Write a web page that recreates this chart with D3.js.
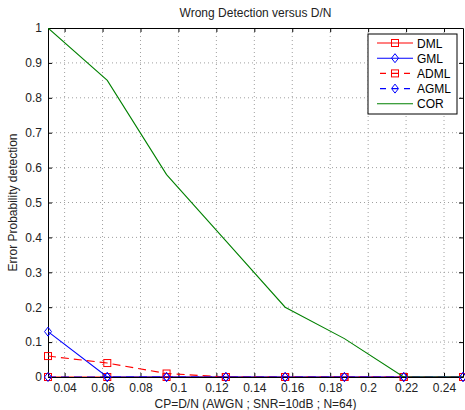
<!DOCTYPE html>
<html>
<head>
<meta charset="utf-8">
<script src="https://cdn.jsdelivr.net/npm/d3@7"></script>
<style>
  body { margin: 0; background: #fff; }
  svg { display: block; font-family: "Liberation Sans", Arial, sans-serif; }
</style>
</head>
<body>
<div id="chart"></div>
<script>
// D/N values (multiples of 1/32)
const dn = [0.03125, 0.0625, 0.09375, 0.125, 0.15625, 0.1875, 0.21875, 0.25];
const dml  = [0, 0, 0, 0, 0, 0, 0, 0];
const gml  = [0.13, 0, 0, 0, 0, 0, 0, 0];
const adml = [0.06, 0.04, 0.01, 0, 0, 0, 0, 0];
const agml = [0, 0, 0, 0, 0, 0, 0, 0];
const cor  = [1.0, 0.85, 0.58, 0.39, 0.2, 0.11, 0, 0];

const xTicks = [0.04, 0.06, 0.08, 0.1, 0.12, 0.14, 0.16, 0.18, 0.2, 0.22, 0.24];
const yTicks = [0, 0.1, 0.2, 0.3, 0.4, 0.5, 0.6, 0.7, 0.8, 0.9, 1];

const series = [
  { name: "DML",  values: dml,  color: "#ff0000", dash: null,  marker: "square" },
  { name: "GML",  values: gml,  color: "#0000ff", dash: null,  marker: "diamond" },
  { name: "ADML", values: adml, color: "#ff0000", dash: "8,5", marker: "square" },
  { name: "AGML", values: agml, color: "#0000ff", dash: "8,5", marker: "diamond" },
  { name: "COR",  values: cor,  color: "#008000", dash: null,  marker: null }
];

const width = 465, height = 410;
const margin = { top: 28, right: 2, bottom: 33, left: 48 };

const svg = d3.select("#chart").append("svg")
  .attr("width", width)
  .attr("height", height);

const x = d3.scaleLinear()
  .domain([0.03125, 0.25])
  .range([margin.left, width - margin.right]);

const y = d3.scaleLinear()
  .domain([0, 1])
  .range([height - margin.bottom, margin.top]);

const fmt = d => String(+d.toFixed(2));

// grid (dotted)
const grid = svg.append("g").attr("stroke", "#a0a0a0").attr("stroke-dasharray", "1,3");
grid.selectAll(".gx").data(xTicks).join("line")
  .attr("x1", d => x(d)).attr("x2", d => x(d))
  .attr("y1", y(0)).attr("y2", y(1));
grid.selectAll(".gy").data(yTicks.slice(1, -1)).join("line")
  .attr("x1", x.range()[0]).attr("x2", x.range()[1])
  .attr("y1", d => y(d)).attr("y2", d => y(d));

// axes, ticks pointing inward, box on all sides
const axB = svg.append("g")
  .attr("transform", `translate(0,${y(0)})`)
  .call(d3.axisBottom(x).tickValues(xTicks).tickFormat(fmt).tickSizeInner(-4).tickSizeOuter(0).tickPadding(6));
const axL = svg.append("g")
  .attr("transform", `translate(${x.range()[0]},0)`)
  .call(d3.axisLeft(y).tickValues(yTicks).tickFormat(fmt).tickSizeInner(-4).tickSizeOuter(0).tickPadding(6));
const axT = svg.append("g")
  .attr("transform", `translate(0,${y(1)})`)
  .call(d3.axisTop(x).tickValues(xTicks).tickFormat("").tickSizeInner(-4).tickSizeOuter(0));
const axR = svg.append("g")
  .attr("transform", `translate(${x.range()[1]},0)`)
  .call(d3.axisRight(y).tickValues(yTicks).tickFormat("").tickSizeInner(-4).tickSizeOuter(0));

[axB, axL, axT, axR].forEach(g => {
  g.select(".domain").attr("stroke", "#000");
  g.selectAll(".tick line").attr("stroke", "#000");
  g.selectAll("text").attr("fill", "#222").style("font-size", "12px");
});

// clip for lines
svg.append("clipPath").attr("id", "clip")
  .append("rect")
  .attr("x", x.range()[0]).attr("y", y(1))
  .attr("width", x.range()[1] - x.range()[0])
  .attr("height", y(0) - y(1));

const line = d3.line()
  .x((d, i) => x(dn[i]))
  .y(d => y(d));

function drawMarker(g, type, cx, cy, color) {
  if (type === "square") {
    g.append("rect")
      .attr("x", cx - 3.5).attr("y", cy - 3.5)
      .attr("width", 7).attr("height", 7)
      .attr("fill", "none").attr("stroke", color).attr("stroke-width", 1);
  } else if (type === "diamond") {
    g.append("path")
      .attr("d", `M${cx},${cy - 4.5}L${cx + 3.5},${cy}L${cx},${cy + 4.5}L${cx - 3.5},${cy}Z`)
      .attr("fill", "none").attr("stroke", color).attr("stroke-width", 1);
  }
}

series.forEach(s => {
  const g = svg.append("g");
  g.append("path")
    .datum(s.values)
    .attr("clip-path", "url(#clip)")
    .attr("fill", "none")
    .attr("stroke", s.color)
    .attr("stroke-width", 1.1)
    .attr("stroke-dasharray", s.dash)
    .attr("d", line);
  if (s.marker) {
    s.values.forEach((v, i) => drawMarker(g, s.marker, x(dn[i]), y(v), s.color));
  }
});

// legend
const lg = svg.append("g");
lg.append("rect")
  .attr("x", 368).attr("y", 34)
  .attr("width", 89).attr("height", 80)
  .attr("fill", "#fff").attr("stroke", "#000").attr("stroke-width", 1);
series.forEach((s, i) => {
  const ly = 43 + i * 15.2;
  lg.append("line")
    .attr("x1", 377).attr("x2", 413)
    .attr("y1", ly).attr("y2", ly)
    .attr("stroke", s.color).attr("stroke-width", 1.1)
    .attr("stroke-dasharray", s.dash ? "6,6" : null)
    .attr("stroke-dashoffset", s.dash ? -3 : null);
  if (s.marker) drawMarker(lg, s.marker, 395, ly, s.color);
  lg.append("text")
    .attr("x", 417).attr("y", ly + 4.5)
    .style("font-size", "12px").attr("fill", "#000")
    .text(s.name);
});

// titles
svg.append("text")
  .attr("x", (x.range()[0] + x.range()[1]) / 2).attr("y", 17)
  .attr("text-anchor", "middle").style("font-size", "12px").attr("fill", "#222")
  .text("Wrong Detection versus D/N");
svg.append("text")
  .attr("x", (x.range()[0] + x.range()[1]) / 2).attr("y", 408)
  .attr("text-anchor", "middle").style("font-size", "12px").attr("fill", "#222")
  .text("CP=D/N (AWGN ; SNR=10dB ; N=64)");
svg.append("text")
  .attr("transform", `translate(17,${(y(0) + y(1)) / 2}) rotate(-90)`)
  .attr("text-anchor", "middle").style("font-size", "12px").attr("fill", "#222")
  .text("Error Probability detection");
</script>
</body>
</html>
